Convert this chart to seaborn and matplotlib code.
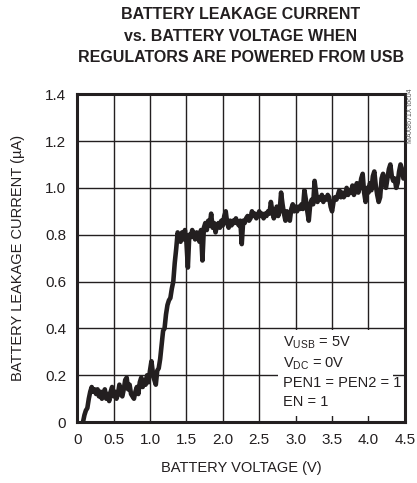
import numpy as np
import pandas as pd
import matplotlib.pyplot as plt
import seaborn as sns
from matplotlib.patches import Rectangle

# data
voltage = [
    0.08, 0.10, 0.12, 0.14, 0.16, 0.18, 0.20, 0.22, 0.24, 0.26, 0.28, 0.30, 0.32, 0.34, 0.36, 0.38,
    0.40, 0.42, 0.44, 0.46, 0.48, 0.50, 0.52, 0.54, 0.56, 0.58, 0.60, 0.62, 0.64, 0.66, 0.68, 0.70,
    0.72, 0.74, 0.76, 0.78, 0.80, 0.82, 0.84, 0.86, 0.88, 0.90, 0.92, 0.94, 0.96, 0.98, 1.00, 1.02,
    1.04, 1.06, 1.08, 1.10, 1.12, 1.14, 1.16, 1.18, 1.20, 1.22, 1.24, 1.26, 1.28, 1.30, 1.32, 1.34,
    1.36, 1.38, 1.40, 1.42, 1.44, 1.46, 1.48, 1.50, 1.52, 1.54, 1.56, 1.58, 1.60, 1.62, 1.64, 1.66,
    1.68, 1.70, 1.72, 1.74, 1.76, 1.78, 1.80, 1.82, 1.84, 1.86, 1.88, 1.90, 1.92, 1.94, 1.96, 1.98,
    2.00, 2.02, 2.04, 2.06, 2.08, 2.10, 2.12, 2.14, 2.16, 2.18, 2.20, 2.22, 2.24, 2.26, 2.28, 2.30,
    2.32, 2.34, 2.36, 2.38, 2.40, 2.42, 2.44, 2.46, 2.48, 2.50, 2.52, 2.54, 2.56, 2.58, 2.60, 2.62,
    2.64, 2.66, 2.68, 2.70, 2.72, 2.74, 2.76, 2.78, 2.80, 2.82, 2.84, 2.86, 2.88, 2.90, 2.92, 2.94,
    2.96, 2.98, 3.00, 3.02, 3.04, 3.06, 3.08, 3.10, 3.12, 3.14, 3.16, 3.18, 3.20, 3.22, 3.24, 3.26,
    3.28, 3.30, 3.32, 3.34, 3.36, 3.38, 3.40, 3.42, 3.44, 3.46, 3.48, 3.50, 3.52, 3.54, 3.56, 3.58,
    3.60, 3.62, 3.64, 3.66, 3.68, 3.70, 3.72, 3.74, 3.76, 3.78, 3.80, 3.82, 3.84, 3.86, 3.88, 3.90,
    3.92, 3.94, 3.96, 3.98, 4.00, 4.02, 4.04, 4.06, 4.08, 4.10, 4.12, 4.14, 4.16, 4.18, 4.20, 4.22,
    4.24, 4.26, 4.28, 4.30, 4.32, 4.34, 4.36, 4.38, 4.40, 4.42, 4.44, 4.46, 4.48, 4.50,
]
leakage = [
    0.00, 0.03, 0.05, 0.06, 0.10, 0.13, 0.15, 0.13, 0.14, 0.12, 0.14, 0.11, 0.13, 0.10, 0.12, 0.14,
    0.10, 0.12, 0.09, 0.13, 0.15, 0.11, 0.13, 0.10, 0.12, 0.16, 0.12, 0.11, 0.14, 0.18, 0.19, 0.14,
    0.16, 0.12, 0.11, 0.10, 0.13, 0.15, 0.12, 0.17, 0.19, 0.15, 0.18, 0.16, 0.20, 0.17, 0.22, 0.26,
    0.21, 0.18, 0.16, 0.22, 0.23, 0.27, 0.33, 0.39, 0.40, 0.46, 0.50, 0.52, 0.53, 0.57, 0.60, 0.68,
    0.74, 0.81, 0.79, 0.77, 0.81, 0.78, 0.82, 0.77, 0.66, 0.80, 0.79, 0.82, 0.80, 0.78, 0.81, 0.80,
    0.77, 0.82, 0.69, 0.83, 0.85, 0.82, 0.86, 0.84, 0.89, 0.83, 0.85, 0.81, 0.84, 0.85, 0.83, 0.86,
    0.84, 0.88, 0.90, 0.85, 0.83, 0.86, 0.84, 0.86, 0.85, 0.87, 0.85, 0.84, 0.86, 0.76, 0.86, 0.85,
    0.87, 0.88, 0.86, 0.87, 0.90, 0.88, 0.89, 0.87, 0.88, 0.90, 0.88, 0.89, 0.87, 0.89, 0.88, 0.90,
    0.89, 0.94, 0.90, 0.87, 0.89, 0.92, 0.88, 0.90, 0.98, 0.93, 0.89, 0.86, 0.90, 0.88, 0.86, 0.91,
    0.93, 0.90, 0.92, 0.90, 0.92, 0.91, 0.93, 0.91, 0.99, 0.95, 0.90, 0.86, 0.93, 0.95, 0.93, 1.03,
    0.98, 0.94, 0.96, 0.95, 0.97, 0.94, 0.96, 0.95, 0.97, 0.96, 0.92, 0.90, 0.94, 0.96, 0.95, 0.97,
    0.99, 0.96, 0.98, 0.96, 0.97, 1.00, 0.97, 0.99, 0.98, 1.01, 0.97, 0.99, 1.02, 0.98, 1.00, 1.04,
    1.06, 0.98, 0.94, 1.00, 0.98, 1.02, 0.99, 1.05, 1.07, 1.01, 0.97, 0.94, 0.96, 1.04, 1.06, 1.02,
    1.00, 1.04, 1.08, 1.10, 1.05, 1.03, 1.04, 1.00, 1.02, 1.07, 1.10, 1.08, 1.04, 1.06,
]
x_ticks = [0, 0.5, 1.0, 1.5, 2.0, 2.5, 3.0, 3.5, 4.0, 4.5]
x_tick_labels = ['0', '0.5', '1.0', '1.5', '2.0', '2.5', '3.0', '3.5', '4.0', '4.5']
y_ticks = [0, 0.2, 0.4, 0.6, 0.8, 1.0, 1.2, 1.4]
y_tick_labels = ['0', '0.2', '0.4', '0.6', '0.8', '1.0', '1.2', '1.4']

df = pd.DataFrame({'voltage': voltage, 'leakage': leakage})

sns.set_style('white')
plt.rcParams['font.family'] = ['Liberation Sans', 'DejaVu Sans']
plt.rcParams['mathtext.fontset'] = 'custom'
plt.rcParams['mathtext.rm'] = 'Liberation Sans'
plt.rcParams['mathtext.it'] = 'Liberation Sans'

fig = plt.figure(figsize=(4.17, 4.83), dpi=100)
ax = fig.add_axes([0.185, 0.126, 0.786, 0.679])

sns.lineplot(data=df, x='voltage', y='leakage', ax=ax, color='#231f20', lw=3.3)

ax.set_xlim(0, 4.5)
ax.set_ylim(0, 1.4)
ax.set_xticks(x_ticks)
ax.set_xticklabels(x_tick_labels)
ax.set_yticks(y_ticks)
ax.set_yticklabels(y_tick_labels)
ax.tick_params(length=0, labelsize=11, colors='#231f20', pad=8)
ax.grid(True, color='#231f20', lw=1.0)
ax.set_axisbelow(True)
for s in ax.spines.values():
    s.set_color('#231f20')
    s.set_linewidth(2.2)

ax.set_xlabel('BATTERY VOLTAGE (V)', fontsize=10.5, color='#231f20', labelpad=10)
ax.set_ylabel('BATTERY LEAKAGE CURRENT (µA)', fontsize=10.5, color='#231f20', labelpad=14)

# white box behind the conditions text
ax.add_patch(Rectangle((0.613, 0.018), 0.35, 0.262, transform=ax.transAxes,
                       facecolor='white', edgecolor='none', zorder=1.5))
ax.text(0.628, 0.268,
        'V$_{\\mathrm{USB}}$ = 5V\nV$_{\\mathrm{DC}}$ = 0V\nPEN1 = PEN2 = 1\nEN = 1',
        transform=ax.transAxes, ha='left', va='top', fontsize=10.5,
        color='#231f20', linespacing=1.4, zorder=3)

fig.text(0.578, 0.985, 'BATTERY LEAKAGE CURRENT\nvs. BATTERY VOLTAGE WHEN\nREGULATORS ARE POWERED FROM USB',
         ha='center', va='top', fontsize=11.5, fontweight='bold', color='#231f20', linespacing=1.55)
fig.text(0.985, 0.76, 'MAX8671X toc04', rotation=90, ha='center', va='center',
         fontsize=5, color='#555555')

fig.savefig('out.png', dpi=100)
